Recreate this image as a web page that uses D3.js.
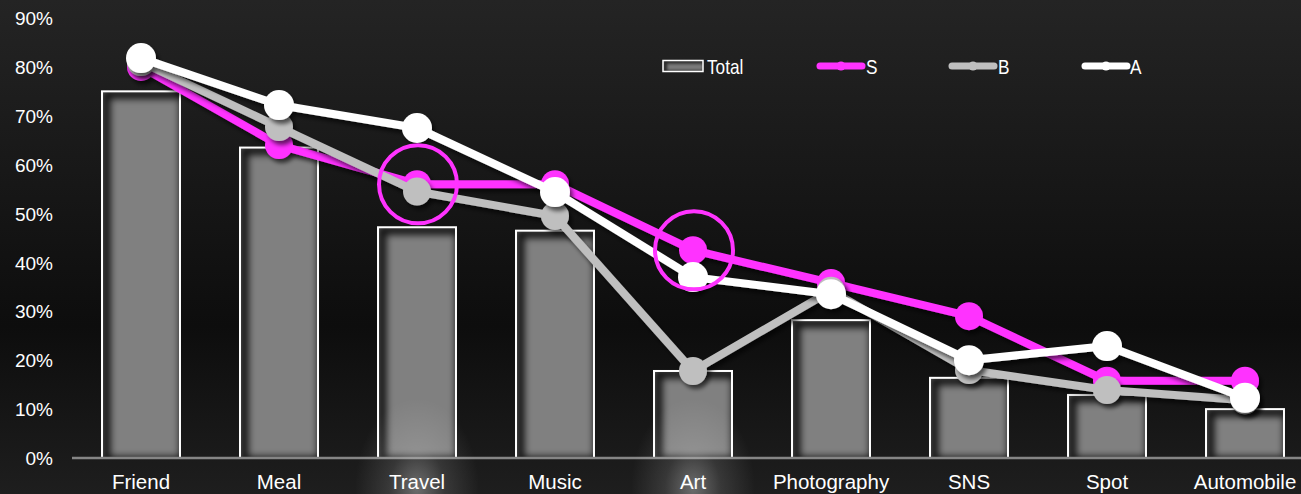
<!DOCTYPE html>
<html>
<head>
<meta charset="utf-8">
<script src="https://cdn.jsdelivr.net/npm/d3@7"></script>
<style>
  html, body { margin: 0; padding: 0; background: #1a1a1a; overflow: hidden; }
  svg { display: block; font-family: "Liberation Sans", Arial, sans-serif; }
</style>
</head>
<body>
<svg id="chart" width="1301" height="494"></svg>
<script>
// Interest categories and share of respondents per group
const categories = ["Friend", "Meal", "Travel", "Music", "Art", "Photography", "SNS", "Spot", "Automobile"];
const totalValues = [0.75, 0.635, 0.472, 0.465, 0.178, 0.282, 0.164, 0.129, 0.100];
const sValues = [0.80, 0.64, 0.56, 0.56, 0.425, 0.358, 0.29, 0.158, 0.158];
const bValues = [0.81, 0.677, 0.545, 0.495, 0.178, 0.342, 0.18, 0.139, 0.118];
const aValues = [0.818, 0.722, 0.675, 0.544, 0.37, 0.335, 0.20, 0.229, 0.123];
const yTicks = [0, 0.1, 0.2, 0.3, 0.4, 0.5, 0.6, 0.7, 0.8, 0.9];
const highlighted = ["Travel", "Art"]; // S points circled

const W = 1301, H = 494;
const svg = d3.select("#chart");
const defs = svg.append("defs");

// background: dark vertical gradient
const bg = defs.append("linearGradient").attr("id", "bg").attr("x1", 0).attr("y1", 0).attr("x2", 0).attr("y2", 1);
bg.append("stop").attr("offset", "0%").attr("stop-color", "#242424");
bg.append("stop").attr("offset", "66%").attr("stop-color", "#0d0d0d");
bg.append("stop").attr("offset", "100%").attr("stop-color", "#1e1e1e");
svg.append("rect").attr("width", W).attr("height", H).attr("fill", "url(#bg)");

// blurs used for the inner shadow of boxes
defs.append("filter").attr("id", "soft").attr("filterUnits", "userSpaceOnUse")
  .attr("x", 0).attr("y", 0).attr("width", W).attr("height", H)
  .append("feGaussianBlur").attr("stdDeviation", 3.5);
defs.append("filter").attr("id", "softSmall").attr("filterUnits", "userSpaceOnUse")
  .attr("x", 0).attr("y", 0).attr("width", W).attr("height", H)
  .append("feGaussianBlur").attr("stdDeviation", 1.5);

// drop shadow for series lines
const drop = defs.append("filter").attr("id", "drop").attr("x", "-10%").attr("y", "-10%").attr("width", "120%").attr("height", "130%");
drop.append("feGaussianBlur").attr("in", "SourceAlpha").attr("stdDeviation", 2).attr("result", "b");
drop.append("feOffset").attr("in", "b").attr("dx", 3).attr("dy", 4).attr("result", "o");
drop.append("feComponentTransfer").attr("in", "o").attr("result", "oa")
  .append("feFuncA").attr("type", "linear").attr("slope", 0.6);
const dm = drop.append("feMerge");
dm.append("feMergeNode").attr("in", "oa");
dm.append("feMergeNode").attr("in", "SourceGraphic");

// soft spotlight below selected categories
const glow = defs.append("radialGradient").attr("id", "glow");
glow.append("stop").attr("offset", "0%").attr("stop-color", "#fff").attr("stop-opacity", 0.35);
glow.append("stop").attr("offset", "45%").attr("stop-color", "#fff").attr("stop-opacity", 0.12);
glow.append("stop").attr("offset", "100%").attr("stop-color", "#fff").attr("stop-opacity", 0);

// scales
const x = d3.scaleBand().domain(categories).range([72, 1314]).paddingInner(0.435).paddingOuter(0.2175);
const y = d3.scaleLinear().domain([0, 0.9]).range([458, 18]);
const cx = d => x(d) + x.bandwidth() / 2;

// y axis labels
const yAxis = d3.axisLeft(y).tickValues(yTicks).tickFormat(d3.format(".0%")).tickSize(0).tickPadding(0);
const yg = svg.append("g").attr("transform", "translate(53,0)").call(yAxis);
yg.select(".domain").remove();
yg.selectAll("text").attr("fill", "#fff").attr("font-size", 19).attr("font-family", "'Liberation Sans', Arial, sans-serif").attr("dy", "0.35em");

// gray box with a soft inner shadow along its top-left edges
function shadedBox(parent, id, bx, by, bw, bh, fill, strokeW, sh) {
  defs.append("clipPath").attr("id", id)
    .append("rect").attr("x", bx).attr("y", by).attr("width", bw).attr("height", bh);
  parent.append("rect").attr("x", bx).attr("y", by).attr("width", bw).attr("height", bh).attr("fill", fill);
  parent.append("g").attr("clip-path", `url(#${id})`)
    .append("rect").attr("x", bx + sh.dx).attr("y", by + sh.dy).attr("width", bw).attr("height", bh)
    .attr("fill", "none").attr("stroke", "#000").attr("stroke-opacity", sh.opacity)
    .attr("stroke-width", sh.width).attr("filter", `url(#${sh.filter})`);
  parent.append("rect").attr("x", bx).attr("y", by).attr("width", bw).attr("height", bh)
    .attr("fill", "none").attr("stroke", "#fff").attr("stroke-width", strokeW);
}

// bars
const bars = svg.append("g");
const barShadow = { dx: 4, dy: 3, width: 9, opacity: 0.85, filter: "soft" };
categories.forEach((c, i) => {
  shadedBox(bars, "bar" + i, x(c), y(totalValues[i]), x.bandwidth(), y(0) - y(totalValues[i]), "#808080", 2, barShadow);
});

// x axis baseline and labels
const xAxis = d3.axisBottom(x).tickSize(0).tickPadding(0);
const xg = svg.append("g").attr("transform", `translate(0,${y(0)})`).call(xAxis);
xg.select(".domain").attr("stroke", "#858585").attr("stroke-width", 2.5).attr("d", `M72,0H1314`);
xg.selectAll("text").attr("fill", "#fff").attr("font-size", 20.5).attr("font-family", "'Liberation Sans', Arial, sans-serif").attr("dy", "31");

// spotlights under circled categories
highlighted.forEach(c => {
  svg.append("ellipse").attr("cx", cx(c)).attr("cy", 488).attr("rx", 62).attr("ry", 90)
    .attr("fill", "url(#glow)");
});

// series lines
const series = [
  { name: "S", values: sValues, color: "#ff33ff", r: 14 },
  { name: "B", values: bValues, color: "#bfbfbf", r: 14 },
  { name: "A", values: aValues, color: "#ffffff", r: 15 }
];
const line = d3.line().x((d, i) => cx(categories[i])).y(d => y(d));
series.forEach(s => {
  const g = svg.append("g").attr("filter", "url(#drop)");
  g.append("path").datum(s.values).attr("d", line)
    .attr("fill", "none").attr("stroke", s.color).attr("stroke-width", 8)
    .attr("stroke-linejoin", "round");
  g.selectAll("circle").data(s.values).join("circle")
    .attr("cx", (d, i) => cx(categories[i])).attr("cy", d => y(d))
    .attr("r", s.r).attr("fill", s.color);
});

// rings marking notable S points
highlighted.forEach(c => {
  const i = categories.indexOf(c);
  svg.append("circle").attr("cx", cx(c) + 1).attr("cy", y(sValues[i]))
    .attr("r", 39).attr("fill", "none").attr("stroke", "#ff33ff").attr("stroke-width", 4);
});

// legend
const leg = svg.append("g");
shadedBox(leg, "legTotal", 663, 60.5, 40, 11, "#7a7a7a", 1.5,
  { dx: 2, dy: 1, width: 4, opacity: 0.7, filter: "softSmall" });
const legText = (tx, label) => leg.append("text")
  .attr("transform", `translate(${tx},66) scale(0.82,1)`)
  .attr("dy", "0.36em").attr("fill", "#fff").attr("font-size", 21).text(label);
legText(707, "Total");
const legItems = [
  { x0: 820, x1: 862, tx: 866, s: series[0] },
  { x0: 952, x1: 994, tx: 998, s: series[1] },
  { x0: 1085, x1: 1127, tx: 1130, s: series[2] }
];
legItems.forEach(it => {
  leg.append("line").attr("x1", it.x0).attr("x2", it.x1).attr("y1", 66).attr("y2", 66)
    .attr("stroke", it.s.color).attr("stroke-width", 7).attr("stroke-linecap", "round");
  leg.append("circle").attr("cx", (it.x0 + it.x1) / 2).attr("cy", 66).attr("r", 4.5).attr("fill", it.s.color);
  legText(it.tx, it.s.name);
});
</script>
</body>
</html>
